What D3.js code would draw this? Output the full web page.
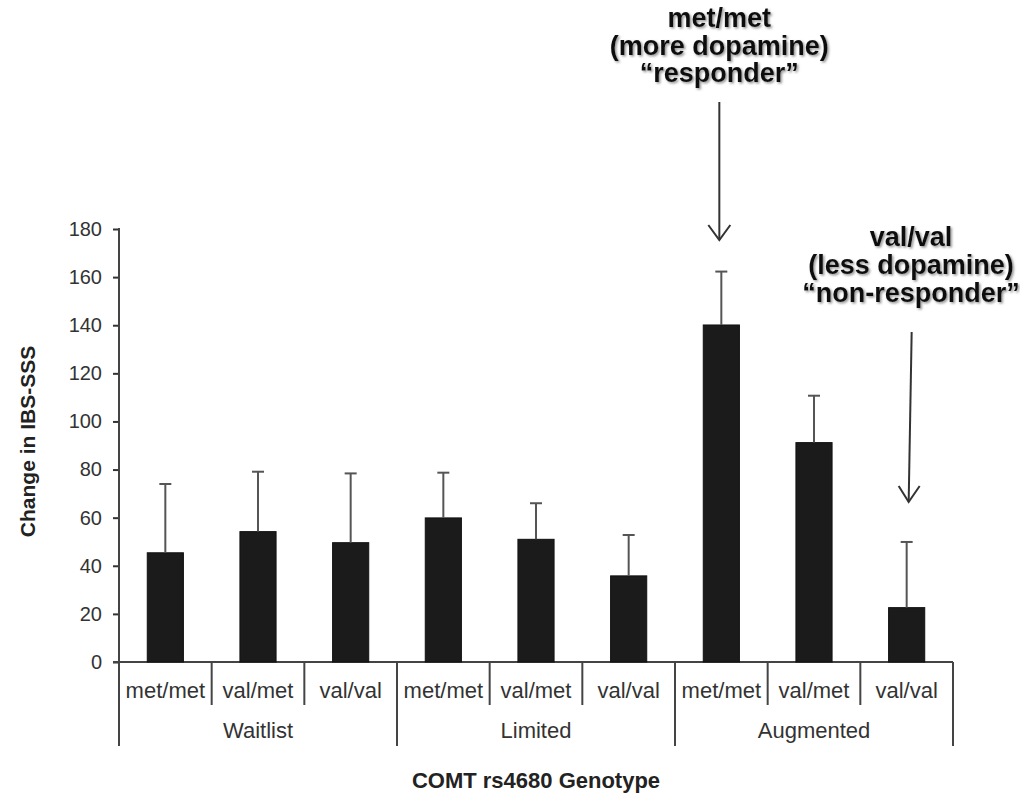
<!DOCTYPE html>
<html>
<head>
<meta charset="utf-8">
<script src="https://cdn.jsdelivr.net/npm/d3@7"></script>
<style>
  html, body { margin: 0; padding: 0; background: #fff; }
  svg { display: block; }
  text { font-family: "Liberation Sans", Arial, Helvetica, sans-serif; }
</style>
</head>
<body>
<svg id="chart" width="1020" height="793"></svg>
<script>
// ---- data ----
const groups = ["Waitlist", "Limited", "Augmented"];
const genotypes = ["met/met", "val/met", "val/val"];
const means = [45.4, 54.2, 49.6, 59.9, 51.0, 35.8, 140.1, 91.2, 22.6];
const errors = [28.6, 24.9, 28.8, 18.8, 15.0, 17.0, 22.2, 19.5, 27.3];
const yTicks = [0, 20, 40, 60, 80, 100, 120, 140, 160, 180];
const annotations = [
  { lines: ["met/met", "(more dopamine)", "\u201Cresponder\u201D"], bar: 6 },
  { lines: ["val/val", "(less dopamine)", "\u201Cnon-responder\u201D"], bar: 8 }
];

(function () {
const svg = d3.select("#chart");
const pL = 119, pR = 953, pT = 229, pB = 662;

const cells = [];
groups.forEach((g, gi) => genotypes.forEach((t, ti) => cells.push({ group: g, geno: t, i: gi * 3 + ti })));

const x = d3.scaleBand().domain(d3.range(cells.length)).range([pL, pR]).padding(0);
const y = d3.scaleLinear().domain([0, 180]).range([pB, pT]);
const barW = x.bandwidth() * 0.39;

// defs: text shadow
const defs = svg.append("defs");
const f = defs.append("filter").attr("id", "shadow").attr("x", "-10%").attr("y", "-20%").attr("width", "130%").attr("height", "150%");
f.append("feDropShadow").attr("dx", 1.5).attr("dy", 1.5).attr("stdDeviation", 1.3).attr("flood-color", "#777").attr("flood-opacity", 0.8);

// y axis
const yAxis = d3.axisLeft(y).tickValues(yTicks).tickSize(6).tickPadding(11).tickSizeOuter(0);
const ya = svg.append("g").attr("transform", `translate(${pL},0)`).call(yAxis);
ya.select(".domain").remove();
ya.selectAll(".tick line").attr("stroke", "#333").attr("stroke-width", 2);
ya.selectAll(".tick text").attr("font-size", 20).attr("fill", "#333").attr("font-family", "Liberation Sans, Arial, sans-serif");

// axis lines
svg.append("line").attr("x1", pL).attr("x2", pL).attr("y1", pT - 1).attr("y2", 746)
  .attr("stroke", "#444").attr("stroke-width", 2);
svg.append("line").attr("x1", pL - 6).attr("x2", pR).attr("y1", pB).attr("y2", pB)
  .attr("stroke", "#444").attr("stroke-width", 2);

// separators
d3.range(1, cells.length + 1).forEach(k => {
  const xx = k < cells.length ? x(k) : pR;
  const long = k % 3 === 0;
  svg.append("line").attr("x1", xx).attr("x2", xx).attr("y1", pB).attr("y2", long ? 746 : 705)
    .attr("stroke", "#444").attr("stroke-width", 2);
});

// bars
svg.append("g").selectAll("rect").data(cells).join("rect")
  .attr("x", d => x(d.i) + x.bandwidth() / 2 - barW / 2)
  .attr("y", d => y(means[d.i]))
  .attr("width", barW)
  .attr("height", d => y(0) - y(means[d.i]))
  .attr("fill", "#1b1b1b")
  .attr("stroke", "#111").attr("stroke-width", 1);

// error bars
const eb = svg.append("g").attr("stroke", "#555").attr("stroke-width", 2);
cells.forEach(d => {
  const cx = x(d.i) + x.bandwidth() / 2;
  eb.append("line").attr("x1", cx).attr("x2", cx).attr("y1", y(means[d.i])).attr("y2", y(means[d.i] + errors[d.i]));
  eb.append("line").attr("x1", cx - 6).attr("x2", cx + 6).attr("y1", y(means[d.i] + errors[d.i])).attr("y2", y(means[d.i] + errors[d.i]));
});

// category labels
svg.append("g").selectAll("text").data(cells).join("text")
  .attr("x", d => x(d.i) + x.bandwidth() / 2)
  .attr("y", 698)
  .attr("text-anchor", "middle").attr("font-size", 22).attr("fill", "#333")
  .text(d => d.geno);

// group labels
svg.append("g").selectAll("text").data(groups).join("text")
  .attr("x", (g, gi) => x(gi * 3 + 1) + x.bandwidth() / 2)
  .attr("y", 738)
  .attr("text-anchor", "middle").attr("font-size", 22).attr("fill", "#333")
  .text(g => g);

// axis titles
svg.append("text").attr("x", (pL + pR) / 2).attr("y", 788)
  .attr("text-anchor", "middle").attr("font-size", 22).attr("font-weight", "bold").attr("fill", "#222")
  .text("COMT rs4680 Genotype");
svg.append("text").attr("transform", `translate(35,${(pT + pB) / 2 - 4}) rotate(-90)`)
  .attr("text-anchor", "middle").attr("font-size", 21).attr("font-weight", "bold").attr("fill", "#222")
  .text("Change in IBS-SSS");

// annotations
const ann1 = annotations[0], ann2 = annotations[1];
const a1x = x(ann1.bar) + x.bandwidth() / 2 - 2;
const t1 = svg.append("text").attr("text-anchor", "middle").attr("font-size", 27).attr("font-weight", "bold")
  .attr("fill", "#111").attr("filter", "url(#shadow)");
ann1.lines.forEach((l, i) => t1.append("tspan").attr("x", a1x).attr("y", 27 + i * 27.5).text(l));

const a2x = 911;
const t2 = svg.append("text").attr("text-anchor", "middle").attr("font-size", 27).attr("font-weight", "bold")
  .attr("fill", "#111").attr("filter", "url(#shadow)");
ann2.lines.forEach((l, i) => t2.append("tspan").attr("x", a2x).attr("y", 246 + i * 28).text(l));

// arrows
const ar = svg.append("g").attr("stroke", "#333").attr("stroke-width", 2).attr("fill", "none");
ar.append("line").attr("x1", a1x).attr("x2", a1x).attr("y1", 102).attr("y2", 240);
ar.append("path").attr("d", `M${a1x - 11},${225} L${a1x},${240} L${a1x + 11},${225}`);
const b2x = x(ann2.bar) + x.bandwidth() / 2 + 2;
ar.append("line").attr("x1", b2x + 3).attr("x2", b2x).attr("y1", 332).attr("y2", 502);
ar.append("path").attr("d", `M${b2x - 10},${486} L${b2x},${502} L${b2x + 11},${486}`);
})();
</script>
</body>
</html>
